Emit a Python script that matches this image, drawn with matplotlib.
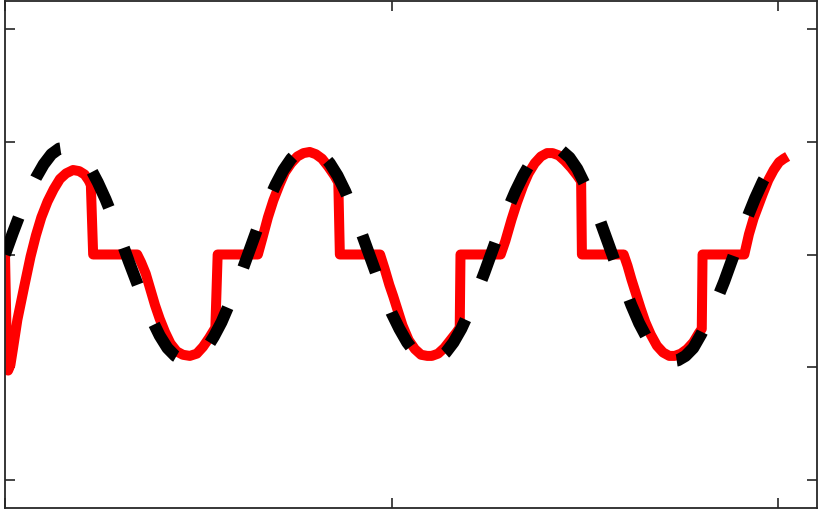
import numpy as np
import matplotlib
matplotlib.use("Agg")
import matplotlib.pyplot as plt

t_ref = [round(0.1 * i, 1) for i in range(102)]
y_ref = [0.00, 0.19, 0.37, 0.54, 0.68, 0.80, 0.89, 0.94, 0.95, 0.93,
         0.86, 0.77, 0.64, 0.49, 0.32, 0.13, -0.06, -0.24, -0.42, -0.58,
         -0.72, -0.83, -0.90, -0.94, -0.95, -0.91, -0.84, -0.73, -0.60, -0.44,
         -0.27, -0.08, 0.11, 0.30, 0.47, 0.62, 0.75, 0.85, 0.92, 0.95,
         0.94, 0.89, 0.81, 0.70, 0.56, 0.39, 0.21, 0.02, -0.17, -0.35,
         -0.52, -0.66, -0.78, -0.87, -0.93, -0.95, -0.93, -0.87, -0.78, -0.66,
         -0.51, -0.34, -0.16, 0.03, 0.22, 0.40, 0.56, 0.70, 0.82, 0.90,
         0.94, 0.95, 0.92, 0.86, 0.76, 0.62, 0.46, 0.29, 0.10, -0.09,
         -0.27, -0.45, -0.61, -0.74, -0.84, -0.91, -0.95, -0.94, -0.90, -0.83,
         -0.71, -0.57, -0.41, -0.24, -0.05, 0.14, 0.33, 0.50, 0.65, 0.77,
         0.87, 0.93]

# output signal (red), with the dead-zone flats
t_out = [0.00, 0.02, 0.04, 0.07, 0.10, 0.16, 0.25, 0.33, 0.40, 0.47,
         0.55, 0.63, 0.71, 0.79, 0.88, 0.96, 1.03, 1.08, 1.11, 1.14,
         1.71, 1.76, 1.82, 1.88, 1.94, 2.00, 2.07, 2.14, 2.22, 2.30,
         2.39, 2.48, 2.56, 2.64, 2.72, 2.75, 3.27, 3.33, 3.40, 3.47,
         3.55, 3.62, 3.70, 3.78, 3.86, 3.94, 4.02, 4.10, 4.18, 4.26,
         4.31, 4.33, 4.85, 4.91, 4.97, 5.02, 5.08, 5.14, 5.22, 5.30,
         5.38, 5.46, 5.52, 5.60, 5.68, 5.76, 5.84, 5.88, 5.89, 6.41,
         6.47, 6.55, 6.62, 6.70, 6.77, 6.85, 6.93, 7.01, 7.08, 7.16,
         7.24, 7.32, 7.40, 7.45, 7.46, 8.00, 8.05, 8.10, 8.16, 8.22,
         8.28, 8.35, 8.43, 8.51, 8.59, 8.66, 8.74, 8.82, 8.90, 8.97,
         9.01, 9.02, 9.56, 9.62, 9.68, 9.74, 9.80, 9.87, 9.94, 10.01,
         10.07, 10.12]
y_out = [0.00, -0.70, -1.03, -0.98, -0.85, -0.58, -0.28, -0.02, 0.17, 0.33,
         0.47, 0.58, 0.67, 0.72, 0.75, 0.74, 0.71, 0.66, 0.62, 0.00,
         0.00, -0.07, -0.17, -0.31, -0.45, -0.57, -0.69, -0.79, -0.86, -0.89,
         -0.90, -0.88, -0.82, -0.74, -0.65, 0.00, 0.00, 0.15, 0.33, 0.48,
         0.62, 0.73, 0.81, 0.87, 0.90, 0.91, 0.89, 0.85, 0.78, 0.70,
         0.64, 0.00, 0.00, -0.13, -0.27, -0.37, -0.50, -0.63, -0.76, -0.84,
         -0.89, -0.90, -0.90, -0.88, -0.83, -0.76, -0.69, -0.65, 0.00, 0.00,
         0.12, 0.31, 0.46, 0.61, 0.72, 0.81, 0.87, 0.90, 0.90, 0.88,
         0.83, 0.77, 0.70, 0.65, 0.00, 0.00, -0.10, -0.22, -0.35, -0.48,
         -0.60, -0.71, -0.81, -0.87, -0.90, -0.90, -0.88, -0.84, -0.78, -0.70,
         -0.66, 0.00, 0.00, 0.18, 0.32, 0.43, 0.54, 0.66, 0.75, 0.82,
         0.85, 0.87]

x_ticks = [0, 5, 10]
y_ticks = [-2, -1, 0, 1, 2]

fig = plt.figure(figsize=(8.24, 5.15), dpi=100)
ax = fig.add_axes([5 / 824, 7 / 515, 812 / 824, 507 / 515])

ax.plot(t_out, y_out, color="#ff0000", lw=7.2,
        solid_joinstyle="round", solid_capstyle="butt", zorder=2)
ax.plot(t_ref, y_ref, color="black", lw=8.6, dashes=(3.3, 3.6),
        dash_capstyle="butt", zorder=3)

ax.set_xlim(0, 10.5)
ax.set_ylim(-2.25, 2.25)
ax.set_xticks(x_ticks)
ax.set_yticks(y_ticks)
ax.tick_params(direction="in", length=7, width=1.2, color="#262626",
               top=True, right=True, labelleft=False, labelbottom=False)
for s in ax.spines.values():
    s.set_color("#262626")
    s.set_linewidth(1.3)

fig.savefig("out.png", dpi=100)
